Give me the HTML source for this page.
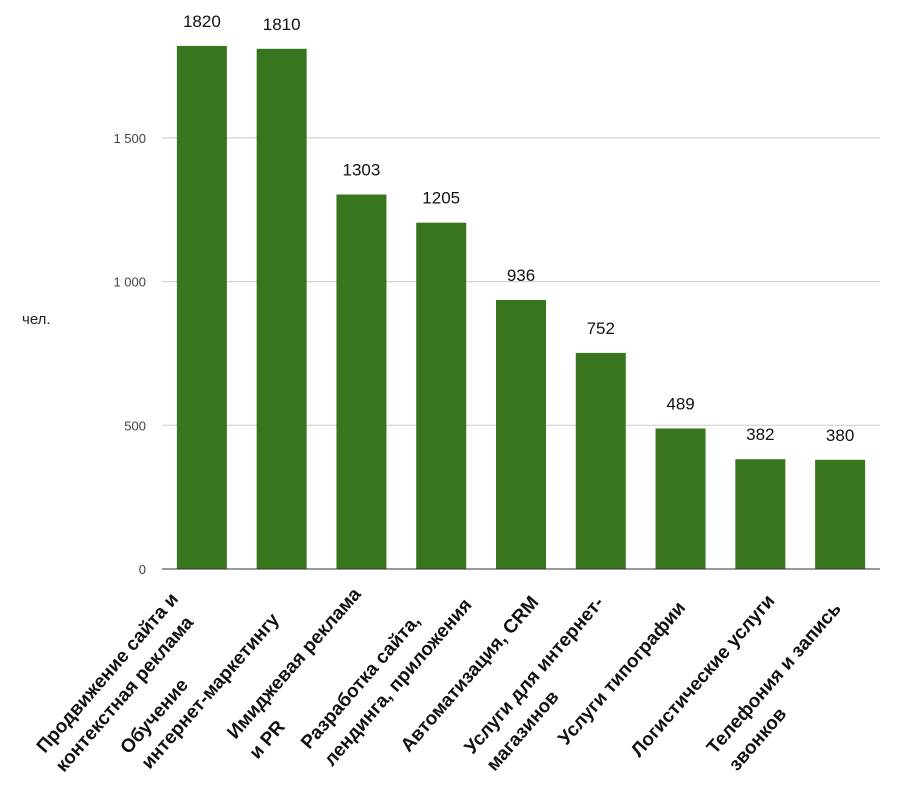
<!DOCTYPE html>
<html><head><meta charset="utf-8"><style>
body{margin:0;background:#fff;}
svg{display:block;font-family:"Liberation Sans",Arial,sans-serif;}
</style></head><body>
<svg id="chart" width="901" height="804">
<g id="grid"></g>
<g id="bars"></g>
<g id="xlabels"></g>
<text x="22" y="324" font-size="15" fill="#222">чел.</text>
</svg>
<script>
const categories = [
  ["Продвижение сайта и","контекстная реклама"],
  ["Обучение","интернет-маркетингу"],
  ["Имиджевая реклама","и PR"],
  ["Разработка сайта,","лендинга, приложения"],
  ["Автоматизация, CRM"],
  ["Услуги для интернет-","магазинов"],
  ["Услуги типографии"],
  ["Логистические услуги"],
  ["Телефония и запись","звонков"]
];
const values = [1820,1810,1303,1205,936,752,489,382,380];
const yTicks = [0,500,1000,1500];
const yTickLabels = ["0","500","1 000","1 500"];

const NS="http://www.w3.org/2000/svg";
const plotLeft=162, plotRight=880, y0=569, pxPerUnit=143.7/500;
const step=(plotRight-plotLeft)/categories.length;
const barW=50;
function yScale(v){return y0 - v*pxPerUnit;}
function xCenter(i){return plotLeft + step*(i+0.5);}
function mk(tag,attrs,parent){const e=document.createElementNS(NS,tag);for(const k in attrs)e.setAttribute(k,attrs[k]);parent.appendChild(e);return e;}

const grid=document.getElementById('grid');
yTicks.forEach((t,i)=>{
  const y=yScale(t);
  const l=mk('line',{x1:plotLeft,x2:plotRight,y1:y,y2:y,stroke:t===0?'#333':'#ccc','stroke-width':1},grid);
  
  
  const tx=mk('text',{x:146,y:y+5,'text-anchor':'end','font-size':13,fill:'#444'},grid);
  tx.textContent=yTickLabels[i];
  
  
});

const bars=document.getElementById('bars');
values.forEach((v,i)=>{
  const cx=xCenter(i);
  const r=mk('rect',{x:cx-barW/2,y:yScale(v),width:barW,height:y0-yScale(v),fill:'#38761d'},bars);
  
  
  const t=mk('text',{x:cx,y:yScale(v)-19,'text-anchor':'middle','font-size':17,fill:'#111'},bars);
  t.textContent=String(v);
  
  
});
mk('line',{x1:plotLeft,x2:plotRight,y1:y0,y2:y0,stroke:'#333','stroke-width':1},bars);

// label line start offsets relative to bar centre (layout only)
const labelStarts=[
  [[-157,754],[-138,773]],
  [[-153,755],[-132,770]],
  [[-126,740],[-104,760]],
  [[-132,750],[-109,767]],
  [[-112,753]],
  [[-128,755],[-106,772]],
  [[-114,746]],
  [[-121,758]],
  [[-125,755],[-103,772]]
];
const xl=document.getElementById('xlabels');
categories.forEach((lines,i)=>{
  const cx=xCenter(i);
  const g=mk('g',{},xl);
  
  
  lines.forEach((s,k)=>{
    const p=labelStarts[i][k];
    const x=cx+p[0], y=p[1];
    const t=mk('text',{x:x,y:y,'font-size':19,'font-weight':'bold',fill:'#111',transform:'rotate(-49 '+x+' '+y+')'},g);
    t.textContent=s;
  });
});
</script>
</body></html>
